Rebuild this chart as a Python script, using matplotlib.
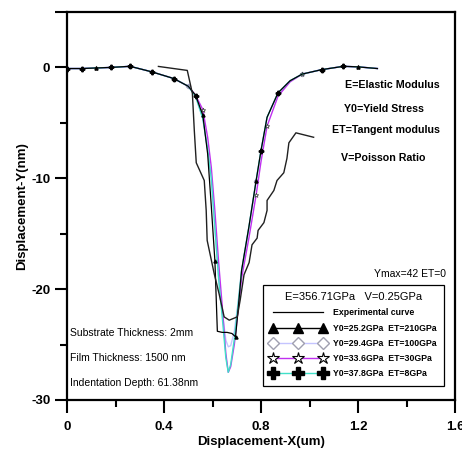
import matplotlib
matplotlib.use("Agg")
import matplotlib.pyplot as plt
from matplotlib.lines import Line2D

plt.rcParams['font.family'] = ['Liberation Sans', 'DejaVu Sans']

# ---- data ----
x_exp = [0.377, 0.496, 0.517, 0.525, 0.533, 0.566, 0.574, 0.578, 0.607, 0.628, 0.648, 0.669,
         0.702, 0.714, 0.730, 0.751, 0.763, 0.784, 0.788, 0.812, 0.825, 0.825, 0.853, 0.866,
         0.894, 0.907, 0.915, 0.944, 1.017]
y_exp = [0.09, -0.27, -2.34, -5.7, -8.6, -10.2, -12.9, -15.6, -18.6, -20.5, -22.5, -22.8,
         -22.5, -21.0, -18.7, -17.6, -16.0, -15.4, -14.7, -14.0, -12.9, -12.0, -11.1, -10.2,
         -9.5, -8.2, -6.8, -5.9, -6.3]

x_tri = [0.0, 0.06, 0.12, 0.18, 0.26, 0.35, 0.44, 0.50, 0.53, 0.56, 0.58, 0.595, 0.61, 0.62,
         0.64, 0.66, 0.68, 0.695, 0.705, 0.72, 0.75, 0.78, 0.80, 0.825, 0.87, 0.92, 0.97, 1.05,
         1.14, 1.20, 1.28]
y_tri = [-0.1, -0.1, -0.05, 0.0, 0.1, -0.4, -1.0, -1.7, -2.5, -4.3, -7.8, -12.5, -17.5, -23.8,
         -23.9, -23.9, -24.0, -24.3, -22.0, -18.3, -14.4, -10.2, -7.5, -4.5, -2.3, -1.2, -0.6,
         -0.2, 0.1, 0.05, -0.1]

x_sim = [0.0, 0.06, 0.12, 0.18, 0.26, 0.35, 0.44, 0.50, 0.53, 0.56, 0.58, 0.595, 0.61, 0.625,
         0.64, 0.655, 0.665, 0.675, 0.69, 0.705, 0.72, 0.75, 0.78, 0.80, 0.825, 0.87, 0.92, 0.97,
         1.05, 1.14, 1.20, 1.28]
y_dia = [-0.1, -0.1, -0.05, 0.0, 0.1, -0.4, -1.0, -1.7, -2.6, -4.6, -7.4, -10.0, -14.5, -18.8,
         -22.0, -24.6, -25.2, -25.1, -23.8, -21.3, -18.3, -14.4, -10.2, -7.5, -4.5, -2.3, -1.2,
         -0.6, -0.2, 0.1, 0.05, -0.1]
y_star = [-0.1, -0.1, -0.05, 0.0, 0.1, -0.4, -1.0, -1.7, -2.5, -3.8, -6.3, -9.0, -13.0, -17.5,
          -21.5, -25.8, -27.5, -27.0, -25.0, -22.0, -19.0, -15.4, -11.5, -8.5, -5.3, -2.6, -1.3,
          -0.6, -0.2, 0.1, 0.05, -0.1]
y_plus = [-0.1, -0.1, -0.05, 0.0, 0.1, -0.4, -1.0, -1.7, -2.6, -4.6, -7.4, -10.0, -14.5, -19.0,
          -22.5, -26.2, -27.5, -26.8, -24.5, -21.5, -18.3, -14.4, -10.2, -7.5, -4.5, -2.3, -1.2,
          -0.6, -0.2, 0.1, 0.05, -0.1]

legend_title = "E=356.71GPa   V=0.25GPa"
labels = ["Experimental curve", "Y0=25.2GPa  ET=210GPa", "Y0=29.4GPa  ET=100GPa",
          "Y0=33.6GPa  ET=30GPa", "Y0=37.8GPa  ET=8GPa"]
notes_right = ["E=Elastic Modulus", "Y0=Yield Stress", "ET=Tangent modulus", "V=Poisson Ratio"]
notes_left = ["Substrate Thickness: 2mm", "Film Thickness: 1500 nm", "Indentation Depth: 61.38nm"]

c_dia = '#c4c4ff'
c_star = '#c030f0'
c_plus = '#40e0c8'

fig = plt.figure(figsize=(4.62, 4.5), dpi=100)
ax = fig.add_axes([67/462, 1-400/450, (455-67)/462, (400-12)/450])

ax.plot(x_sim, y_dia, color=c_dia, lw=1.0, marker='D', ms=2.2, mfc='white', mec='#a0a0c0',
        markevery=[1, 3, 5, 7, 22, 25, 27, 29], zorder=3)
ax.plot(x_sim, y_star, color=c_star, lw=1.0, marker='*', ms=3.5, mfc='white', mec='#404040',
        mew=0.5, markevery=[2, 4, 6, 9, 22, 24, 27, 30], zorder=4)
ax.plot(x_sim, y_plus, color=c_plus, lw=1.0, marker='P', ms=3.2, mfc='black', mec='black',
        markevery=[0, 1, 3, 4, 5, 6, 8, 23, 25, 28, 29], zorder=5)
ax.plot(x_tri, y_tri, color='black', lw=0.9, marker='^', ms=2.2, mfc='black', mec='black',
        markevery=[2, 4, 6, 9, 12, 17, 21, 24, 27, 29], zorder=6)
ax.plot(x_exp, y_exp, color='#202020', lw=1.0, zorder=7)

ax.set_xlim(0, 1.6)
ax.set_ylim(-30, 5)
ax.set_xticks([0, 0.4, 0.8, 1.2, 1.6], labels=['0', '0.4', '0.8', '1.2', '1.6'])
ax.set_xticks([0.2, 0.6, 1.0, 1.4], minor=True)
ax.set_yticks([-30, -20, -10, 0, 5], labels=['-30', '-20', '-10', '0', ''])
ax.set_yticks([-25, -15, -5], minor=True)
ax.tick_params(which='major', direction='out', length=9, width=1.5, labelsize=9.5, pad=3)
ax.tick_params(axis='x', which='major', pad=6)
ax.tick_params(which='minor', direction='out', length=5, width=1.5)
for lab in ax.get_xticklabels() + ax.get_yticklabels():
    lab.set_fontweight('bold')
for sp in ax.spines.values():
    sp.set_linewidth(1.6)

ax.set_xlabel("Displacement-X(um)", fontsize=9.5, fontweight='bold', labelpad=2)
ax.set_ylabel("Displacement-Y(nm)", fontsize=9.5, fontweight='bold', labelpad=2)


def px(xp, yp):
    return ((xp - 67) / 388, (400 - yp) / 388)


for (xp, yp), t in zip([(392, 85), (384, 109), (386, 130), (383, 158)], notes_right):
    ax.text(*px(xp, yp), t, transform=ax.transAxes, fontsize=7.7, fontweight='bold',
            ha='center', va='center', zorder=10,
            bbox=dict(facecolor='white', edgecolor='none', pad=1.5))
ax.text(*px(410, 274), "Ymax=42 ET=0", transform=ax.transAxes, fontsize=7.5,
        ha='center', va='center')
for yp, t in zip([333, 358, 383], notes_left):
    ax.text(*px(70, yp), t, transform=ax.transAxes, fontsize=7.5, ha='left', va='center')

handles = [
    Line2D([], [], color='black', lw=0.9),
    Line2D([], [], color='black', lw=1.0, marker='^', ms=7, mfc='black', mec='black'),
    Line2D([], [], color=c_dia, lw=1.0, marker='D', ms=6, mfc='white', mec='#a0a0b0'),
    Line2D([], [], color=c_star, lw=1.0, marker='*', ms=9, mfc='white', mec='black', mew=0.8),
    Line2D([], [], color=c_plus, lw=1.0, marker='P', ms=8, mfc='black', mec='black'),
]
leg = ax.legend(handles, labels, title=legend_title, loc='upper left',
                bbox_to_anchor=px(263, 285), numpoints=3, handlelength=6.4,
                fontsize=6.3, title_fontsize=8.0, frameon=True, fancybox=False,
                edgecolor='black', framealpha=1, borderaxespad=0, labelspacing=0.72,
                handletextpad=0.8, borderpad=0.8)
leg.get_frame().set_linewidth(0.9)
for t in leg.get_texts():
    t.set_fontweight('bold')
leg.set_zorder(20)

fig.savefig("out.png", dpi=100)
